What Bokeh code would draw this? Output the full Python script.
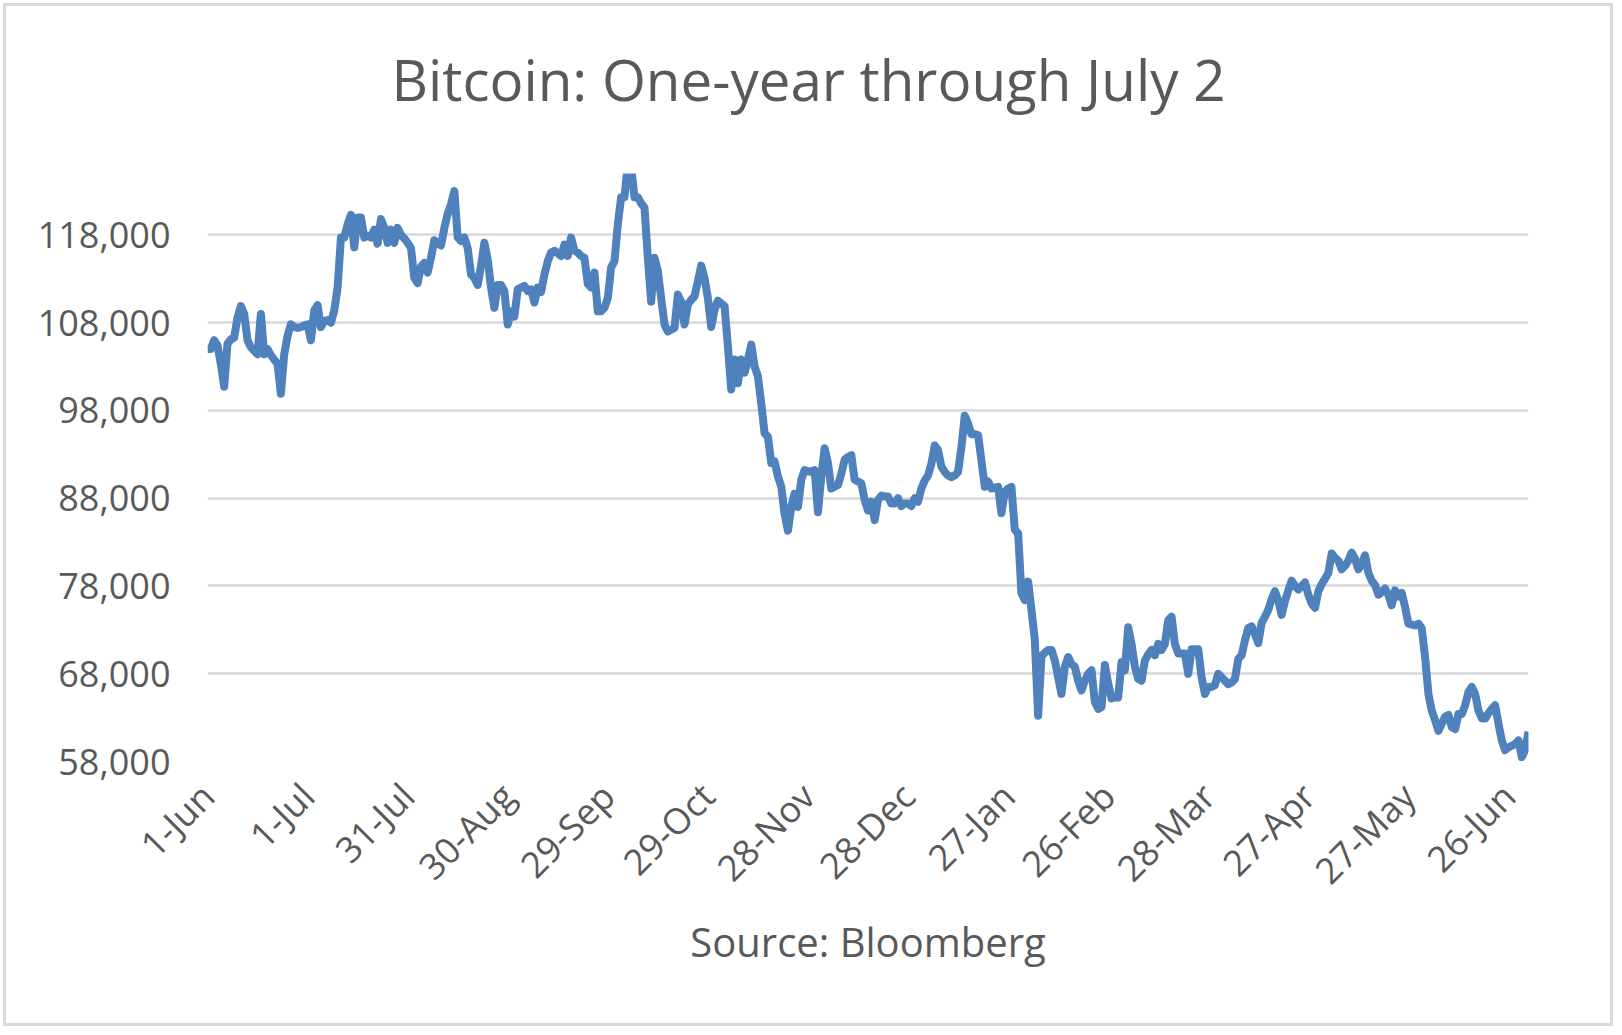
import pandas as pd
from math import pi
from bokeh.plotting import figure
from bokeh.models import FixedTicker, NumeralTickFormatter, Range1d, Title
from bokeh.embed import file_html
from bokeh.resources import INLINE

# ---------------- data ----------------
title_text = "Bitcoin: One-year through July 2"
source_text = "Source: Bloomberg"

start_date = "2025-06-01"
end_date = "2026-07-02"

# daily closing price, thousands of USD
price_k = [
    105.0, 105.0, 106.0, 105.4, 103.3, 100.7, 105.6, 106.1, 106.3, 108.6,
    109.9, 109.0, 106.0, 105.2, 104.8, 104.4, 109.0, 104.4, 105.0, 104.3,
    103.8, 103.3, 99.9, 104.4, 106.5, 107.8, 107.5, 107.4, 107.5, 107.7,
    107.8, 106.0, 109.4, 110.0, 107.5, 108.2, 108.3, 108.0, 109.4, 112.0,
    117.7, 117.7, 119.2, 120.3, 116.6, 120.0, 120.0, 117.7, 117.9, 117.7,
    118.6, 117.0, 119.8, 118.8, 117.1, 118.6, 117.1, 118.8, 118.0, 117.6,
    117.1, 116.5, 113.1, 112.5, 114.4, 114.8, 113.7, 115.4, 117.4, 117.0,
    116.8, 118.8, 120.4, 121.5, 123.0, 117.7, 117.3, 117.7, 116.5, 113.5,
    113.1, 112.3, 114.5, 117.1, 115.2, 112.0, 109.7, 112.3, 112.3, 111.6,
    107.8, 109.3, 108.7, 111.8, 112.0, 112.2, 111.6, 111.8, 110.3, 112.0,
    111.5, 113.5, 115.0, 116.0, 116.2, 115.9, 115.6, 116.9, 115.6, 117.7,
    116.2, 116.0, 115.6, 115.4, 112.4, 112.0, 113.7, 109.3, 109.3, 109.7,
    110.8, 114.3, 115.0, 119.2, 122.3, 122.3, 126.0, 125.8, 122.3, 122.3,
    121.6, 121.1, 115.4, 110.4, 115.4, 113.9, 110.8, 107.8, 107.0, 107.2,
    107.4, 111.2, 110.4, 107.8, 110.1, 110.6, 111.0, 112.7, 114.5, 113.1,
    110.8, 107.5, 109.5, 110.5, 110.2, 109.9, 105.3, 100.4, 103.8, 101.1,
    103.8, 102.3, 103.8, 105.5, 103.0, 101.9, 98.8, 95.4, 95.0, 92.0,
    92.2, 90.5, 89.3, 86.2, 84.3, 87.0, 88.5, 87.0, 90.1, 91.2,
    91.1, 91.0, 91.2, 86.4, 90.5, 93.7, 92.0, 89.1, 89.3, 89.5,
    90.8, 92.4, 92.7, 92.9, 90.1, 89.9, 89.7, 87.8, 86.6, 87.6,
    85.5, 87.8, 88.3, 88.2, 88.2, 87.4, 87.4, 88.0, 87.1, 87.4,
    87.4, 87.1, 88.0, 87.6, 89.1, 90.0, 90.6, 91.9, 94.0, 93.5,
    91.6, 91.0, 90.6, 90.4, 90.6, 91.0, 93.8, 97.4, 96.5, 95.3,
    95.3, 95.2, 92.3, 89.3, 89.9, 89.1, 89.2, 89.3, 86.3, 88.7,
    89.1, 89.3, 84.4, 84.0, 77.2, 76.4, 78.5, 75.3, 71.9, 63.2,
    70.0, 70.4, 70.7, 70.7, 69.5, 67.6, 65.7, 68.8, 69.9, 69.1,
    68.8, 67.2, 66.1, 67.2, 68.0, 68.4, 64.8, 64.0, 64.2, 69.0,
    66.9, 65.2, 65.3, 65.3, 69.3, 68.4, 73.3, 71.4, 68.8, 67.4,
    67.2, 69.5, 70.2, 70.7, 70.1, 71.4, 70.7, 71.4, 74.1, 74.5,
    71.4, 70.3, 70.3, 70.3, 68.0, 70.8, 70.8, 70.8, 67.6, 65.7,
    66.5, 66.5, 66.7, 68.0, 67.6, 67.2, 66.8, 67.0, 67.4, 69.7,
    70.1, 71.8, 73.2, 73.4, 72.5, 71.5, 73.8, 74.5, 75.3, 76.5,
    77.4, 76.3, 74.7, 76.3, 77.5, 78.6, 78.0, 77.6, 78.0, 78.4,
    77.0, 76.0, 75.5, 77.4, 78.2, 78.8, 79.5, 81.7, 81.2, 80.9,
    79.9, 80.3, 80.9, 81.8, 81.1, 79.9, 80.5, 81.5, 79.5, 78.6,
    78.1, 77.0, 77.3, 77.7, 77.0, 75.8, 77.5, 76.8, 77.2, 75.6,
    73.7, 73.6, 73.5, 73.7, 73.2, 69.9, 65.7, 63.8, 62.7, 61.5,
    62.3, 63.1, 63.3, 61.9, 61.7, 63.4, 63.4, 64.4, 65.9, 66.5,
    65.7, 63.8, 62.9, 62.9, 63.5, 64.0, 64.4, 62.3, 60.4, 59.3,
    59.6, 59.8, 60.0, 60.4, 58.5, 59.3, 61.4,
]

tick_dates = ["2025-06-01", "2025-07-01", "2025-07-31", "2025-08-30",
              "2025-09-29", "2025-10-29", "2025-11-28", "2025-12-28",
              "2026-01-27", "2026-02-26", "2026-03-28", "2026-04-27",
              "2026-05-27", "2026-06-26"]
tick_labels = ["1-Jun", "1-Jul", "31-Jul", "30-Aug", "29-Sep", "29-Oct",
               "28-Nov", "28-Dec", "27-Jan", "26-Feb", "28-Mar", "27-Apr",
               "27-May", "26-Jun"]

y_ticks = [58000, 68000, 78000, 88000, 98000, 108000, 118000]
y_min, y_max = 58000, 125000

# ---------------- build ----------------
dates = pd.date_range(start_date, periods=len(price_k), freq="D")
prices = [v * 1000 for v in price_k]

TEXT = "#595959"
FONT = "Open Sans"

W, H = 1610, 1023
frame_l, frame_r, frame_t, frame_b = 201, 1522, 167, 755

p = figure(width=W, height=H, x_axis_type="datetime",
           output_backend="svg", toolbar_location=None,
           x_range=Range1d(pd.Timestamp(start_date), pd.Timestamp(end_date)),
           y_range=Range1d(y_min, y_max),
           min_border_left=frame_l, min_border_right=W - frame_r,
           min_border_top=frame_t, min_border_bottom=H - frame_b,
           background_fill_color="white", border_fill_color="white")
p.styles = {"margin": "3px", "border": "3px solid #d9d9d9"}
p.outline_line_color = None

p.line(dates, prices, line_color="#4F81BD", line_width=8, line_join="round")

# title
p.title.text = title_text
p.title.text_font = FONT
p.title.text_font_size = "56.5px"
p.title.text_font_style = "normal"
p.title.text_color = TEXT
p.title.align = "left"
p.title.vertical_align = "bottom"
p.title.offset = 184
p.title.standoff = 0
# blank spacer between the title and the plot area
p.add_layout(Title(text=" ", text_font_size="2px", standoff=52), "above")

# y axis
p.yaxis.ticker = FixedTicker(ticks=y_ticks)
p.yaxis.formatter = NumeralTickFormatter(format="0,0")
p.yaxis.axis_line_color = None
p.yaxis.major_tick_line_color = None
p.yaxis.minor_tick_line_color = None
p.yaxis.major_label_text_font = FONT
p.yaxis.major_label_text_font_size = "36px"
p.yaxis.major_label_text_color = TEXT
p.yaxis.major_label_standoff = 31

# x axis
tick_ms = [pd.Timestamp(d).value / 1e6 for d in tick_dates]
p.xaxis.ticker = FixedTicker(ticks=tick_ms)
p.xaxis.major_label_overrides = {t: lab for t, lab in zip(tick_ms, tick_labels)}
p.xaxis.major_label_orientation = pi / 4
p.xaxis.axis_line_color = None
p.xaxis.major_tick_line_color = None
p.xaxis.minor_tick_line_color = None
p.xaxis.major_label_text_font = FONT
p.xaxis.major_label_text_font_size = "36px"
p.xaxis.major_label_text_color = TEXT
p.xaxis.major_label_standoff = 22
p.xaxis.axis_label = source_text
p.xaxis.axis_label_text_font = FONT
p.xaxis.axis_label_text_font_size = "40px"
p.xaxis.axis_label_text_font_style = "normal"
p.xaxis.axis_label_text_color = TEXT
p.xaxis.axis_label_standoff = 0

p.xgrid.grid_line_color = None
p.ygrid.grid_line_color = "#d9d9d9"
p.ygrid.grid_line_width = 2.5

open("out.html", "w").write(file_html(p, INLINE))
